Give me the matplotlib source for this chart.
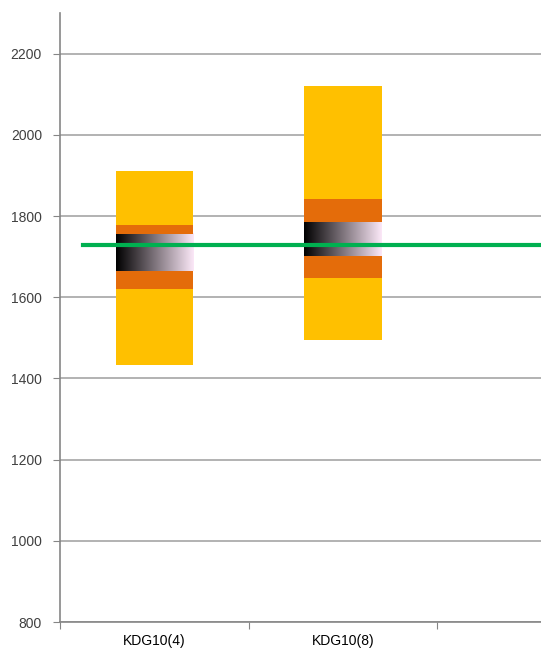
import numpy as np
import matplotlib
matplotlib.use('Agg')
import matplotlib.pyplot as plt
from matplotlib.colors import LinearSegmentedColormap

categories = ['KDG10(4)', 'KDG10(8)']
bottoms = [1433, 1495]
outerLow = [1621, 1648]
innerLow = [1664, 1702]
innerHigh = [1756, 1784]
outerHigh = [1777, 1842]
tops = [1910, 2121]
refLevel = 1728

yTicks = [800, 1000, 1200, 1400, 1600, 1800, 2000, 2200]

plt.rcParams['font.family'] = ['Liberation Sans', 'DejaVu Sans']

dpi = 100
fig = plt.figure(figsize=(541/dpi, 652/dpi), dpi=dpi)
ax = fig.add_axes([60/541, 30/652, 566/541, 609/652])

gold = '#FFC000'
darkOrange = '#E46C0A'
gradMap = LinearSegmentedColormap.from_list('grad', ['#000000', '#FCE8F8'])
gradient = np.linspace(0, 1, 256).reshape(1, -1)

xs = np.arange(len(categories)) + 0.5
width = 0.41

for i, x in enumerate(xs):
    ax.bar(x, outerLow[i] - bottoms[i], width, bottom=bottoms[i], color=gold, zorder=2)
    ax.bar(x, innerLow[i] - outerLow[i], width, bottom=outerLow[i], color=darkOrange, zorder=2)
    ax.imshow(gradient, cmap=gradMap, aspect='auto', zorder=2,
              extent=(x - width/2, x + width/2, innerLow[i], innerHigh[i]))
    ax.bar(x, outerHigh[i] - innerHigh[i], width, bottom=innerHigh[i], color=darkOrange, zorder=2)
    ax.bar(x, tops[i] - outerHigh[i], width, bottom=outerHigh[i], color=gold, zorder=2)

ax.plot([0.12, 3], [refLevel, refLevel], color='#00B050', linewidth=3, zorder=3)

ax.set_xlim(0, 3)
ax.set_ylim(800, 2300)
ax.set_yticks(yTicks)
ax.set_yticklabels([str(v) for v in yTicks])
ax.yaxis.grid(True, color='#a6a6a6', linewidth=1.2, zorder=0)
ax.set_axisbelow(True)

ax.set_xticks([0, 1, 2, 3])
ax.set_xticklabels([])
ax.set_xticks(xs, minor=True)
ax.set_xticklabels(categories, minor=True)
ax.tick_params(axis='x', which='minor', length=0, pad=9)
ax.tick_params(axis='x', which='major', length=5, color='#868686')
ax.tick_params(axis='y', length=5, color='#868686', pad=8)
ax.tick_params(labelsize=10, labelcolor='#404040')

for side in ['top', 'right']:
    ax.spines[side].set_visible(False)
for side in ['left', 'bottom']:
    ax.spines[side].set_color('#868686')
    ax.spines[side].set_linewidth(1.2)

plt.savefig('out.png', dpi=dpi)
